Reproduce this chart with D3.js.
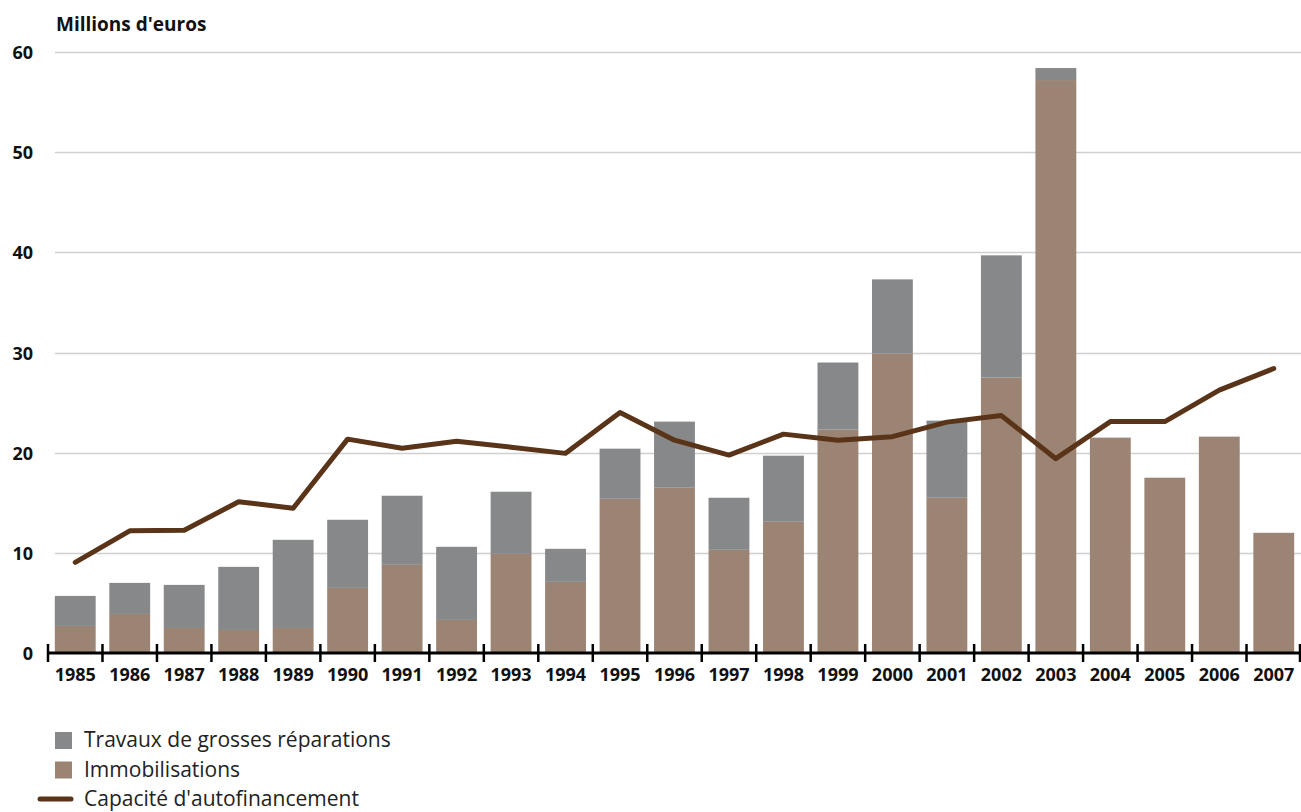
<!DOCTYPE html>
<html>
<head>
<meta charset="utf-8">
<script src="https://cdn.jsdelivr.net/npm/d3@7"></script>
<style>
  body { margin: 0; background: #fff; }
  svg text { font-family: "Open Sans", "Noto Sans", sans-serif; }
</style>
</head>
<body>
<div id="chart"></div>
<script>
// data
const years = ['1985','1986','1987','1988','1989','1990','1991','1992','1993','1994','1995','1996',
  '1997','1998','1999','2000','2001','2002','2003','2004','2005','2006','2007'];
const immobilisations = [2.7,3.9,2.5,2.3,2.5,6.5,8.8,3.3,9.9,7.1,15.4,16.5,10.3,13.1,22.3,29.9,15.5,27.5,57.2,21.5,17.5,21.6,12.0];
const travaux = [3.0,3.1,4.3,6.3,8.8,6.8,6.9,7.3,6.2,3.3,5.0,6.6,5.2,6.6,6.7,7.4,7.7,12.2,1.2,0,0,0,0];
const capacite = [9.05,12.2,12.25,15.1,14.45,21.35,20.45,21.15,20.55,19.93,24.0,21.25,19.76,21.85,21.25,21.6,23.05,23.7,19.4,23.1,23.1,26.25,28.4];
const yTicks = [0,10,20,30,40,50,60];

const width = 1301, height = 812;
const colGray = '#87888a', colBrown = '#9c8475', colLine = '#5a3418';

const svg = d3.select('#chart').append('svg')
  .attr('width', width)
  .attr('height', height);

const x = d3.scaleBand()
  .domain(years)
  .range([48, 1301])
  .paddingInner(0.25)
  .paddingOuter(0.125);

const y = d3.scaleLinear()
  .domain([0, 60])
  .range([653, 52]);

// gridlines
svg.append('g')
  .selectAll('line')
  .data(yTicks.filter(d => d > 0))
  .enter()
  .append('line')
  .attr('x1', 55)
  .attr('x2', 1301)
  .attr('y1', d => Math.round(y(d)) + 0.5)
  .attr('y2', d => Math.round(y(d)) + 0.5)
  .attr('stroke', '#d0d0d0')
  .attr('stroke-width', 1.5);

// y labels
svg.append('g')
  .selectAll('text')
  .data(yTicks)
  .enter()
  .append('text')
  .attr('x', 33)
  .attr('y', d => y(d) + 7)
  .attr('text-anchor', 'end')
  .attr('font-size', '18px')
  .attr('font-weight', 'bold')
  .attr('fill', '#111')
  .text(d => d);

svg.append('text')
  .attr('x', 56)
  .attr('y', 31)
  .attr('font-size', '19px')
  .attr('font-weight', 'bold')
  .attr('fill', '#111')
  .text("Millions d'euros");

// stacked bars
const stackData = years.map((yr, i) => ({ year: yr, immo: immobilisations[i], trav: travaux[i] }));
const series = d3.stack().keys(['immo', 'trav'])(stackData);
const colors = { immo: colBrown, trav: colGray };

svg.append('g')
  .selectAll('g')
  .data(series)
  .enter()
  .append('g')
  .attr('fill', d => colors[d.key])
  .selectAll('rect')
  .data(d => d)
  .enter()
  .append('rect')
  .attr('x', d => x(d.data.year))
  .attr('width', x.bandwidth())
  .attr('y', d => y(d[1]))
  .attr('height', d => Math.max(0, y(d[0]) - y(d[1])));

// x axis
const xAxis = d3.axisBottom(x).tickSize(0).tickPadding(15);
const gx = svg.append('g')
  .attr('transform', 'translate(0,653)')
  .call(xAxis);
gx.select('.domain').remove();
gx.selectAll('text')
  .attr('font-size', '18px')
  .attr('font-weight', 'bold')
  .attr('fill', '#111')
  .attr('font-family', '"Open Sans", "Noto Sans", sans-serif');

svg.append('line')
  .attr('x1', 47).attr('x2', 1301)
  .attr('y1', 653).attr('y2', 653)
  .attr('stroke', '#000')
  .attr('stroke-width', 3);

const step = x.step();
const edges = d3.range(years.length + 1).map(i => 48 + i * step);
svg.append('g')
  .selectAll('line')
  .data(edges)
  .enter()
  .append('line')
  .attr('x1', d => Math.min(d, 1300))
  .attr('x2', d => Math.min(d, 1300))
  .attr('y1', 644)
  .attr('y2', 662)
  .attr('stroke', '#000')
  .attr('stroke-width', 2.5);

// capacity line
const line = d3.line()
  .x((d, i) => x(years[i]) + x.bandwidth() / 2)
  .y(d => y(d));

svg.append('path')
  .datum(capacite)
  .attr('d', line)
  .attr('fill', 'none')
  .attr('stroke', colLine)
  .attr('stroke-width', 5)
  .attr('stroke-linejoin', 'round')
  .attr('stroke-linecap', 'round');

// legend
const legend = svg.append('g');
const legendItems = [
  { label: 'Travaux de grosses réparations', type: 'box', color: colGray },
  { label: 'Immobilisations', type: 'box', color: colBrown },
  { label: "Capacité d'autofinancement", type: 'line', color: colLine }
];
legendItems.forEach((d, i) => {
  const cy = 740 + i * 29.5;
  if (d.type === 'box') {
    legend.append('rect')
      .attr('x', 55).attr('y', cy - 8)
      .attr('width', 17).attr('height', 17)
      .attr('fill', d.color);
  } else {
    legend.append('line')
      .attr('x1', 40).attr('x2', 71)
      .attr('y1', cy).attr('y2', cy)
      .attr('stroke', d.color)
      .attr('stroke-width', 5)
      .attr('stroke-linecap', 'round');
  }
  legend.append('text')
    .attr('x', 84)
    .attr('y', cy + 7)
    .attr('font-size', '21px')
    .attr('fill', '#222')
    .text(d.label);
});
</script>
</body>
</html>
